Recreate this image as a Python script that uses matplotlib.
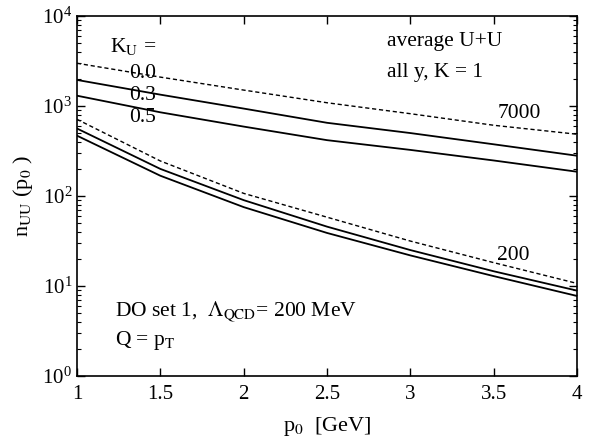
import matplotlib
matplotlib.use("Agg")
import matplotlib.pyplot as plt
import numpy as np

plt.rcParams['font.family'] = ['Liberation Serif', 'DejaVu Serif']
plt.rcParams['mathtext.fontset'] = 'stix'

# p0 grid [GeV]
p0 = [1.0, 1.5, 2.0, 2.5, 3.0, 3.5, 4.0]

# sqrt(s) = 7000 GeV, K_U = 0.0 / 0.3 / 0.5
n7000_k00 = [2980, 2090, 1500, 1085, 820, 610, 485]
n7000_k03 = [1945, 1335, 935, 650, 500, 375, 280]
n7000_k05 = [1300, 850, 590, 417, 325, 248, 186]

# sqrt(s) = 200 GeV
n200_k00 = [711, 245, 107, 58.2, 31.6, 18.2, 10.7]
n200_k03 = [562, 200, 90, 45.7, 25.1, 14.6, 8.9]
n200_k05 = [468, 168, 75.3, 38.9, 21.9, 12.9, 7.76]

fig = plt.figure(figsize=(5.92, 4.41), dpi=100)
ax = fig.add_axes([0.130, 0.147, 0.845, 0.817])

dash = (0, (3, 2))
ax.plot(p0, n7000_k00, color='black', lw=1.0, ls=dash)
ax.plot(p0, n7000_k03, color='black', lw=1.3)
ax.plot(p0, n7000_k05, color='black', lw=1.3)
ax.plot(p0, n200_k00, color='black', lw=1.0, ls=dash)
ax.plot(p0, n200_k03, color='black', lw=1.3)
ax.plot(p0, n200_k05, color='black', lw=1.3)

ax.set_yscale('log')
ax.set_xlim(1, 4)
ax.set_ylim(1, 1e4)
ax.set_xticks([1, 1.5, 2, 2.5, 3, 3.5, 4])
ax.set_xticklabels(['1', '1.5', '2', '2.5', '3', '3.5', '4'])
ax.tick_params(which='both', direction='in', top=True, right=True, labelsize=15)
ax.tick_params(which='major', length=6, width=1)
ax.tick_params(which='minor', length=3, width=0.8)
ax.tick_params(axis='x', pad=6)
for s in ax.spines.values():
    s.set_linewidth(1.2)

fs = 15.5
ax.set_xlabel(r'p$_0$  [GeV]', fontsize=16, labelpad=8)
ax.set_ylabel(r'n$_{\rm UU}$ (p$_0$ )', fontsize=16, labelpad=5)

ax.text(1.2, 3980, r'K$_{\rm U}$ =', fontsize=fs)
ax.text(1.31, 2050, '0.0', fontsize=fs)
ax.text(1.31, 1166, '0.3', fontsize=fs)
ax.text(1.31, 665, '0.5', fontsize=fs)
ax.text(2.86, 4640, 'average U+U', fontsize=fs)
ax.text(2.86, 2100, r'all y, K = 1', fontsize=fs)
ax.text(3.52, 730, '7000', fontsize=fs)
ax.text(3.52, 19.5, '200', fontsize=fs)
ax.text(1.23, 4.76, r'DO set 1,  $\Lambda_{\rm QCD}$= 200 MeV', fontsize=fs)
ax.text(1.23, 2.21, r'Q = p$_{\rm T}$', fontsize=fs)

fig.savefig('out.png', dpi=100)
